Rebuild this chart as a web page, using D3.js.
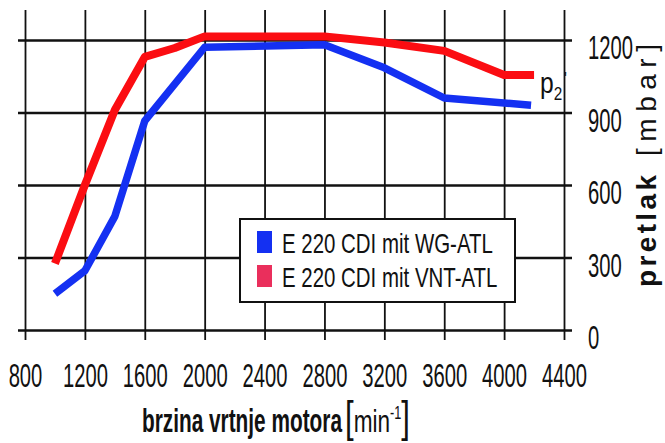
<!DOCTYPE html>
<html>
<head>
<meta charset="utf-8">
<script src="https://cdn.jsdelivr.net/npm/d3@7"></script>
<style>
  html, body { margin: 0; padding: 0; background: #fff; }
  svg { display: block; }
</style>
</head>
<body>
<script>
// ---------- data ----------
const rpmTicks = [800, 1200, 1600, 2000, 2400, 2800, 3200, 3600, 4000, 4400];
const pressureTicks = [0, 300, 600, 900, 1200];

const wgRpm = [1000, 1200, 1400, 1600, 2000, 2800, 3200, 3600, 4180];
const wgPressure = [150, 245, 470, 865, 1170, 1180, 1085, 960, 930];

const vntRpm = [1000, 1200, 1400, 1600, 1800, 2000, 2800, 3200, 3600, 4000, 4200];
const vntPressure = [275, 600, 910, 1130, 1167, 1215, 1215, 1190, 1155, 1055, 1055];

const seriesNames = ["E 220 CDI mit WG-ATL", "E 220 CDI mit VNT-ATL"];
const xTitle = "brzina vrtnje motora";
const yTitleBold = "pretlak";
const yTitleUnit = "[mbar]";

// ---------- setup ----------
const W = 665, H = 443;
const NARROW = "'Liberation Sans Narrow', 'Arial Narrow', 'Liberation Sans', Arial, sans-serif";
const SANS = "'Liberation Sans', Arial, sans-serif";
const BLUE = "#1430f2", RED = "#fb0d12";

const svg = d3.select("body").append("svg").attr("width", W).attr("height", H);
svg.append("rect").attr("width", W).attr("height", H).attr("fill", "#fff");

const x = d3.scaleLinear().domain([800, 4400]).range([25, 564]);
const y = d3.scaleLinear().domain([0, 1200]).range([330, 40]);

// measure helper for condensed labels
const probe = svg.append("text").attr("font-family", NARROW).attr("font-size", 33).text("1200");
const digitScale = 45 / probe.node().getComputedTextLength();
probe.remove();

// ---------- vertical grid + x labels ----------
const gx = svg.append("g").attr("transform", "translate(0,340)")
  .call(d3.axisBottom(x).tickValues(rpmTicks).tickSize(-330).tickFormat(d3.format("d")));
gx.select(".domain").remove();
gx.selectAll(".tick line").attr("stroke", "#111").attr("stroke-width", 1.8);
gx.selectAll(".tick text")
  .attr("font-family", NARROW).attr("font-size", 33).attr("fill", "#111")
  .attr("y", 0).attr("dy", 0).attr("text-anchor", "middle")
  .attr("transform", `translate(0,47) scale(${digitScale},1)`);
gx.attr("font-family", null).attr("font-size", null);

// ---------- horizontal grid + y labels ----------
const gy = svg.append("g").attr("transform", "translate(572,0)")
  .call(d3.axisLeft(y).tickValues(pressureTicks).tickSize(554).tickFormat(d3.format("d")));
gy.select(".domain").remove();
gy.selectAll(".tick line").attr("stroke", "#111").attr("stroke-width", 2.4);
gy.selectAll(".tick text")
  .attr("font-family", NARROW).attr("font-size", 33).attr("fill", "#111")
  .attr("x", 0).attr("dy", 0).attr("text-anchor", "start")
  .attr("transform", `translate(16,18.5) scale(${digitScale},1)`);
gy.attr("font-family", null).attr("font-size", null);

// ---------- lines ----------
const line = d3.line().x(d => x(d[0])).y(d => y(d[1]));
const wgData = wgRpm.map((r, i) => [r, wgPressure[i]]);
const vntData = vntRpm.map((r, i) => [r, vntPressure[i]]);

svg.append("path").datum(wgData).attr("d", line)
  .attr("fill", "none").attr("stroke", BLUE).attr("stroke-width", 7.5)
  .attr("stroke-linejoin", "round").attr("stroke-linecap", "butt");
svg.append("path").datum(vntData).attr("d", line)
  .attr("fill", "none").attr("stroke", RED).attr("stroke-width", 8)
  .attr("stroke-linejoin", "round").attr("stroke-linecap", "butt");

// ---------- p2' label ----------
const p2 = svg.append("text").attr("font-family", NARROW).attr("fill", "#111")
  .attr("transform", "translate(540,93) scale(0.85,1)");
p2.append("tspan").attr("font-size", 29).text("p");
p2.append("tspan").attr("font-size", 18).attr("dy", 7).text("2");
p2.append("tspan").attr("font-size", 18).attr("dy", -15).attr("dx", 2).text("'");

// ---------- legend ----------
const leg = svg.append("g");
leg.append("rect").attr("x", 240).attr("y", 219).attr("width", 275).attr("height", 83)
  .attr("fill", "#fff").attr("stroke", "#111").attr("stroke-width", 2);
const legColors = [BLUE, "#ea2f5c"];
const legBase = [253, 287];
seriesNames.forEach((name, i) => {
  leg.append("rect").attr("x", 257).attr("y", legBase[i] - 22).attr("width", 15).attr("height", 22)
    .attr("fill", legColors[i]);
});
const legTexts = seriesNames.map((name, i) =>
  leg.append("text").attr("font-family", NARROW).attr("font-size", 28).attr("fill", "#111").text(name));
const legScale = 211 / legTexts[0].node().getComputedTextLength();
legTexts.forEach((t, i) => t.attr("transform", `translate(282,${legBase[i]}) scale(${legScale},1)`));

// ---------- x title ----------
const xt = svg.append("text").attr("font-family", NARROW).attr("font-size", 33)
  .attr("font-weight", "bold").attr("fill", "#111").text(xTitle);
const xtScale = 200 / xt.node().getComputedTextLength();
xt.attr("transform", `translate(142,432) scale(${xtScale},1)`);

const unit = svg.append("text").attr("font-family", NARROW).attr("fill", "#111");
unit.append("tspan").attr("font-size", 44).text("[");
unit.append("tspan").attr("font-size", 32).text("min");
unit.append("tspan").attr("font-size", 18).attr("dy", -13).text("-1");
unit.append("tspan").attr("font-size", 44).attr("dy", 13).text("]");
const unitScale = 65 / unit.node().getComputedTextLength();
unit.attr("transform", `translate(345,432) scale(${unitScale},1)`);

// ---------- right y title ----------
svg.append("text").attr("font-family", SANS).attr("font-weight", "bold").attr("font-size", 28)
  .attr("fill", "#111").attr("textLength", 112).attr("lengthAdjust", "spacing")
  .attr("transform", "translate(656,287) rotate(-90)").text(yTitleBold);
svg.append("text").attr("font-family", SANS).attr("font-size", 28)
  .attr("fill", "#111").attr("textLength", 112).attr("lengthAdjust", "spacing")
  .attr("transform", "translate(656,156) rotate(-90)").text(yTitleUnit);
</script>
</body>
</html>
